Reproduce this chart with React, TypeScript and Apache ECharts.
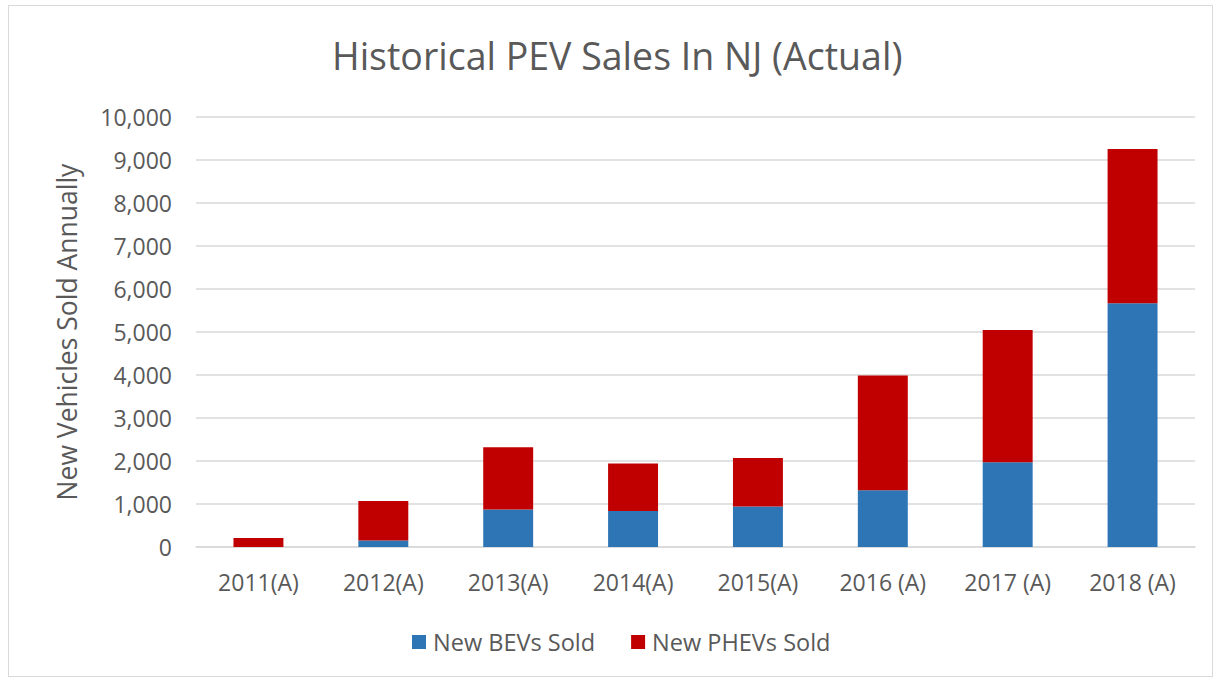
import React, { useEffect, useRef } from "react";
import * as echarts from "echarts";

const categories = ["2011(A)", "2012(A)", "2013(A)", "2014(A)", "2015(A)", "2016 (A)", "2017 (A)", "2018 (A)"];
const bevSold = [0, 150, 870, 840, 940, 1320, 1970, 5670];
const phevSold = [210, 920, 1450, 1100, 1130, 2670, 3075, 3585];
const seriesNames = ["New BEVs Sold", "New PHEVs Sold"];
const colors = ["#2E75B6", "#C00000"];

export default function App() {
  const ref = useRef<HTMLDivElement>(null);
  useEffect(() => {
    if (!ref.current) return;
    const chart = echarts.init(ref.current, undefined, { renderer: "svg" });
    const font = "'Open Sans', sans-serif";
    chart.setOption({
      animation: false,
      textStyle: { fontFamily: font },
      title: {
        text: "Historical PEV Sales In NJ (Actual)",
        left: 327,
        top: 31,
        textStyle: { fontSize: 37.5, fontWeight: "normal", color: "#595959", fontFamily: font },
      },
      legend: {
        top: 625,
        left: 407,
        itemWidth: 14,
        itemHeight: 14,
        itemGap: 36,
        icon: "rect",
        textStyle: { fontSize: 23.5, color: "#595959", fontFamily: font, padding: [0, 0, 0, 2] },
        data: seriesNames,
      },
      grid: { left: 196, right: 28, top: 117, bottom: 138, containLabel: false },
      xAxis: {
        type: "category",
        data: categories,
        axisLine: { lineStyle: { color: "#D9D9D9", width: 1.5 } },
        axisTick: { show: false },
        axisLabel: { fontSize: 23, color: "#595959", margin: 23, fontFamily: font },
      },
      yAxis: {
        type: "value",
        min: 0,
        max: 10000,
        interval: 1000,
        name: "New Vehicles Sold Annually",
        nameLocation: "middle",
        nameGap: 116,
        nameTextStyle: { fontSize: 26.5, color: "#595959", fontFamily: font },
        axisLine: { show: false },
        axisTick: { show: false },
        splitLine: { lineStyle: { color: "#D9D9D9", width: 1.5 } },
        axisLabel: {
          fontSize: 23,
          color: "#595959",
          margin: 24,
          fontFamily: font,
          formatter: (v: number) => v.toLocaleString("en-US"),
        },
      },
      series: [
        {
          name: seriesNames[0],
          type: "bar",
          stack: "total",
          data: bevSold,
          barWidth: "40%",
          itemStyle: { color: colors[0] },
        },
        {
          name: seriesNames[1],
          type: "bar",
          stack: "total",
          data: phevSold,
          barWidth: "40%",
          itemStyle: { color: colors[1] },
        },
      ],
    });
    return () => chart.dispose();
  }, []);
  return (
    <div style={{ position: "absolute", left: 0, top: 0, width: 1223, height: 685, background: "#fff" }}>
      <div
        style={{
          position: "absolute",
          left: 8,
          top: 5,
          width: 1205,
          height: 672,
          border: "1.5px solid #D9D9D9",
          boxSizing: "border-box",
        }}
      />
      <div ref={ref} style={{ position: "absolute", left: 0, top: 0, width: 1223, height: 685 }} />
    </div>
  );
}
